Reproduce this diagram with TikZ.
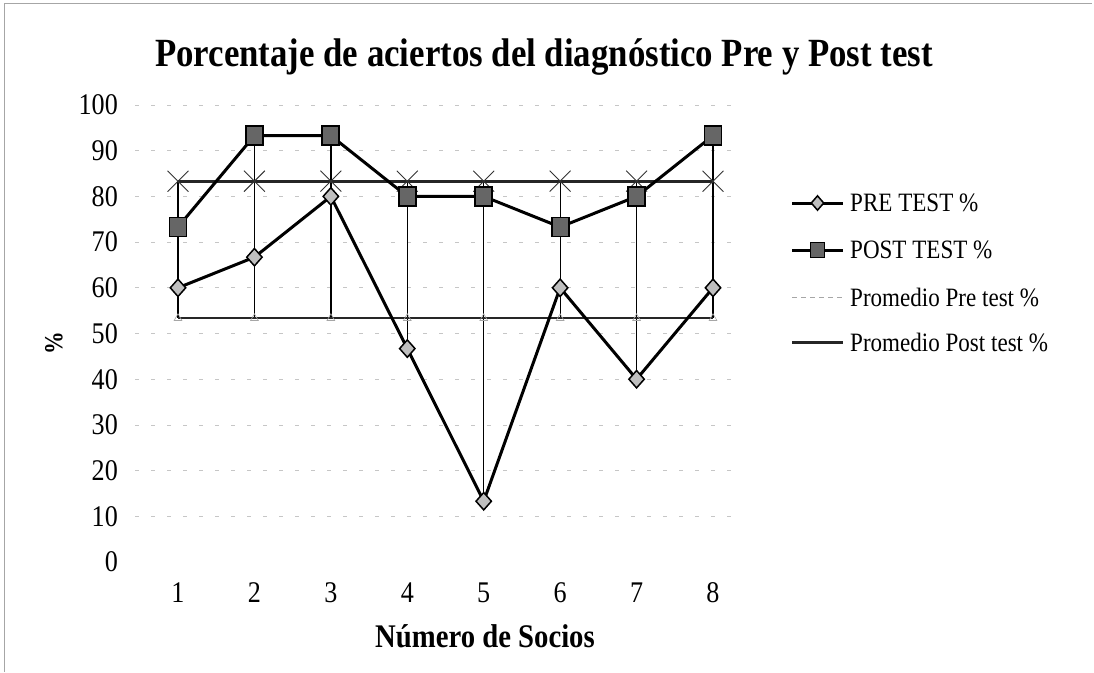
\documentclass[tikz,border=0pt]{standalone}
\usepackage{fontspec}
\setmainfont[FakeStretch=0.87]{Liberation Serif}
\usetikzlibrary{shapes.geometric,shapes.misc}
\tikzset{
  lbl/.style={inner sep=0pt, font=\fontsize{30}{30}\selectfont},
  legtxt/.style={inner sep=0pt, anchor=west, font=\fontsize{26.5}{26.5}\selectfont},
  grid/.style={gray!45, line width=0.7pt, dash pattern=on 4pt off 12pt},
  hilo/.style={black, line width=1.3pt},
  seriesline/.style={black, line width=3pt},
  postavgline/.style={black!85, line width=3pt},
  preavgline/.style={black!85, line width=2.4pt},
  premark/.style={diamond, draw=black, fill=gray!50, line width=1.5pt, minimum width=16pt, minimum height=18pt, inner sep=0pt},
  postmark/.style={rectangle, draw=black, fill=black!60, line width=1.8pt, minimum width=17pt, minimum height=19pt, inner sep=0pt},
  xmark/.style={cross out, draw=black!80, line width=0.9pt, minimum size=20pt, inner sep=0pt},
  trimark/.style={regular polygon, regular polygon sides=3, draw=gray!70, line width=0.6pt, minimum size=9pt, inner sep=0pt},
  frameline/.style={gray!70, line width=1pt}
}
\begin{document}
\begin{tikzpicture}[x=1pt,y=-1pt]
\useasboundingbox (0,0) rectangle (1094,672);
% outer frame (top and left visible)
\coordinate (fTL) at (4,3);
\coordinate (fTR) at (1092,3);
\coordinate (fBL) at (4,672);
\draw[frameline] (fBL) -- (fTL) -- (fTR);
% title
\node[inner sep=0pt, font=\fontsize{40}{40}\selectfont\bfseries] (title) at (544,57) {Porcentaje de aciertos del diagn\'ostico Pre y Post test};
% gridlines and y labels
\foreach \v in {0,10,...,100} {
  \coordinate (gl\v) at (135,{562-\v*4.57});
  \coordinate (gr\v) at (740,{562-\v*4.57});
  \node[lbl, anchor=east] (yl\v) at (118,{562-\v*4.57}) {\v};
}
\foreach \v in {10,20,...,100} { \draw[grid] (gl\v) -- (gr\v); }
% y axis title
\node[inner sep=0pt, rotate=90, font=\fontsize{26}{26}\selectfont\bfseries] (ytitle) at (54,343) {\%};
% x labels
\foreach \i in {1,...,8} {
  \node[lbl] (xl\i) at ({178+(\i-1)*76.43},593) {\i};
}
\node[inner sep=0pt, font=\fontsize{33}{33}\selectfont\bfseries] (xtitle) at (485,636) {N\'umero de Socios};
% data coordinates
\foreach \v [count=\i] in {60,66.7,80,46.7,13.3,60,40,60} {
  \coordinate (pre\i) at ({178+(\i-1)*76.43},{562-\v*4.57});
}
\foreach \v [count=\i] in {73.3,93.3,93.3,80,80,73.3,80,93.3} {
  \coordinate (post\i) at ({178+(\i-1)*76.43},{562-\v*4.57});
}
\foreach \i in {1,...,8} {
  \coordinate (apre\i) at ({178+(\i-1)*76.43},{562-53.33*4.57});
  \coordinate (apost\i) at ({178+(\i-1)*76.43},{562-83.33*4.57});
}
% high-low lines
\draw[hilo] (apost1) -- (apre1);
\draw[hilo] (post2) -- (apre2);
\draw[hilo] (post3) -- (apre3);
\draw[hilo] (apost4) -- (pre4);
\draw[hilo] (apost5) -- (pre5);
\draw[hilo] (apost6) -- (apre6);
\draw[hilo] (apost7) -- (pre7);
\draw[hilo] (post8) -- (apre8);
% average lines
\draw[preavgline] (apre1) -- (apre8);
\draw[postavgline] (apost1) -- (apost8);
% series lines
\draw[seriesline, line join=round] (pre1) \foreach \i in {2,...,8} { -- (pre\i) };
\draw[seriesline, line join=round] (post1) \foreach \i in {2,...,8} { -- (post\i) };
% markers
\foreach \i in {1,...,8} {
  \node[trimark] (mapre\i) at (apre\i) {};
  \node[xmark] (mapost\i) at (apost\i) {};
  \node[premark] (mpre\i) at (pre\i) {};
  \node[postmark] (mpost\i) at (post\i) {};
}
% legend
\coordinate (l1a) at (792,203); \coordinate (l1b) at (843,203);
\coordinate (l2a) at (792,250); \coordinate (l2b) at (843,250);
\coordinate (l3a) at (792,297); \coordinate (l3b) at (843,297);
\coordinate (l4a) at (792,342); \coordinate (l4b) at (843,342);
\draw[seriesline] (l1a) -- (l1b);
\node[premark, minimum width=13pt, minimum height=15pt] (lm1) at (817.5,203) {};
\draw[seriesline] (l2a) -- (l2b);
\node[postmark, minimum width=14pt, minimum height=15pt] (lm2) at (817.5,250) {};
\draw[gray!70, line width=1pt, dash pattern=on 5pt off 4pt] (l3a) -- (l3b);
\draw[postavgline] (l4a) -- (l4b);
\node[legtxt] (lt1) at (850,203) {PRE TEST \%};
\node[legtxt] (lt2) at (850,250) {POST TEST \%};
\node[legtxt] (lt3) at (850,297) {Promedio Pre test \%};
\node[legtxt] (lt4) at (850,342) {Promedio Post test \%};
\end{tikzpicture}
\end{document}
